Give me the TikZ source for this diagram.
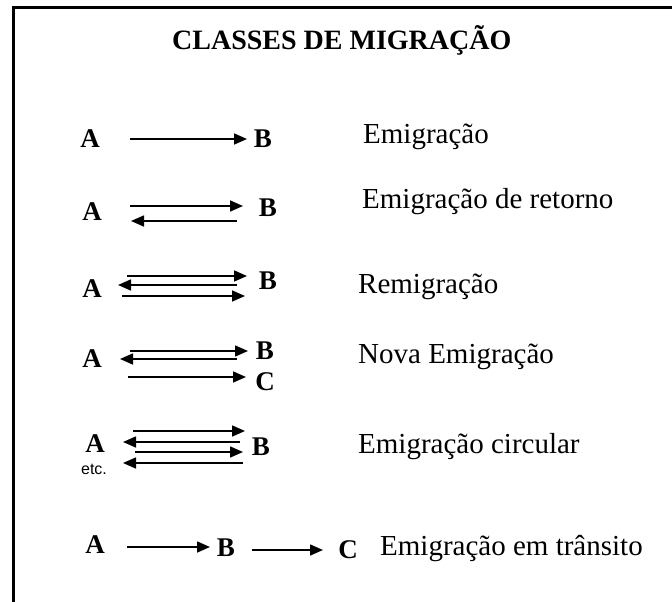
\documentclass[tikz,border=0pt]{standalone}
\usepackage{fontspec}
\setmainfont{Liberation Serif}
\newfontfamily\etcfont{Liberation Sans}
\usetikzlibrary{arrows.meta,calc}
\tikzset{
  letra/.style={inner sep=0pt,font=\fontsize{27}{30}\selectfont\bfseries},
  rotulo/.style={inner sep=0pt,anchor=base west,font=\fontsize{29}{32}\selectfont},
  seta/.style={line width=1.6pt,-{Triangle[length=13pt,width=11pt]}}
}
\begin{document}
\begin{tikzpicture}[x=1pt,y=-1pt]
  \useasboundingbox (0,0) rectangle (672,602);
  \draw[line width=3pt] (13,602) -- (13,8) -- (672,8);
  \node[inner sep=0pt,anchor=base west,font=\fontsize{28}{30}\selectfont\bfseries] (titulo) at (172,49) {CLASSES DE MIGRAÇÃO};
  \node[letra] (a1) at (90,139) {A};
  \node[letra] (b1) at (263,139) {B};
  \node[letra] (a2) at (92,212) {A};
  \node[letra] (b2) at (268,208) {B};
  \node[letra] (a3) at (92,289) {A};
  \node[letra] (b3) at (268,281) {B};
  \node[letra] (a4) at (92,359) {A};
  \node[letra] (b4) at (265,351) {B};
  \node[letra] (c4) at (265,382) {C};
  \node[letra] (a5) at (95,444) {A};
  \node[letra] (b5) at (261,447) {B};
  \node[inner sep=0pt,font=\etcfont\fontsize{16}{18}\selectfont] (etc) at (94,469) {etc.};
  \node[letra] (a6) at (95,545) {A};
  \node[letra] (b6) at (226,548) {B};
  \node[letra] (c6) at (348,550) {C};
  \draw[seta] ($(a1)+(40,0)$) -- ($(b1)+(-16,0)$);
  \draw[seta] ($(a2)+(38,-6)$) -- ($(b2)+(-25,-2)$);
  \draw[seta] ($(b2)+(-31,13)$) -- ($(a2)+(39,9)$);
  \draw[seta] ($(a3)+(35,-13)$) -- ($(b3)+(-21,-5)$);
  \draw[seta] ($(b3)+(-31,4)$) -- ($(a3)+(26,-4)$);
  \draw[seta] ($(a3)+(30,7)$) -- ($(b3)+(-23,15)$);
  \draw[seta] ($(a4)+(38,-8)$) -- ($(b4)+(-17,0)$);
  \draw[seta] ($(b4)+(-28,8)$) -- ($(a4)+(28,0)$);
  \draw[seta] ($(a4)+(36,18)$) -- ($(c4)+(-19,-5)$);
  \draw[seta] ($(a5)+(38,-13)$) -- ($(b5)+(-16,-16)$);
  \draw[seta] ($(b5)+(-21,-5)$) -- ($(a5)+(28,-2)$);
  \draw[seta] ($(a5)+(40,8)$) -- ($(b5)+(-18,5)$);
  \draw[seta] ($(b5)+(-18,16)$) -- ($(a5)+(28,19)$);
  \draw[seta] ($(a6)+(32,2)$) -- ($(b6)+(-16,-1)$);
  \draw[seta] ($(b6)+(26,2)$) -- ($(c6)+(-25,0)$);
  \node[rotulo] (r1) at (363,143) {Emigração};
  \node[rotulo] (r2) at (362,208) {Emigração de retorno};
  \node[rotulo] (r3) at (358,293) {Remigração};
  \node[rotulo] (r4) at (358,363) {Nova Emigração};
  \node[rotulo] (r5) at (358,453) {Emigração circular};
  \node[rotulo] (r6) at (380,555) {Emigração em trânsito};
\end{tikzpicture}
\end{document}
